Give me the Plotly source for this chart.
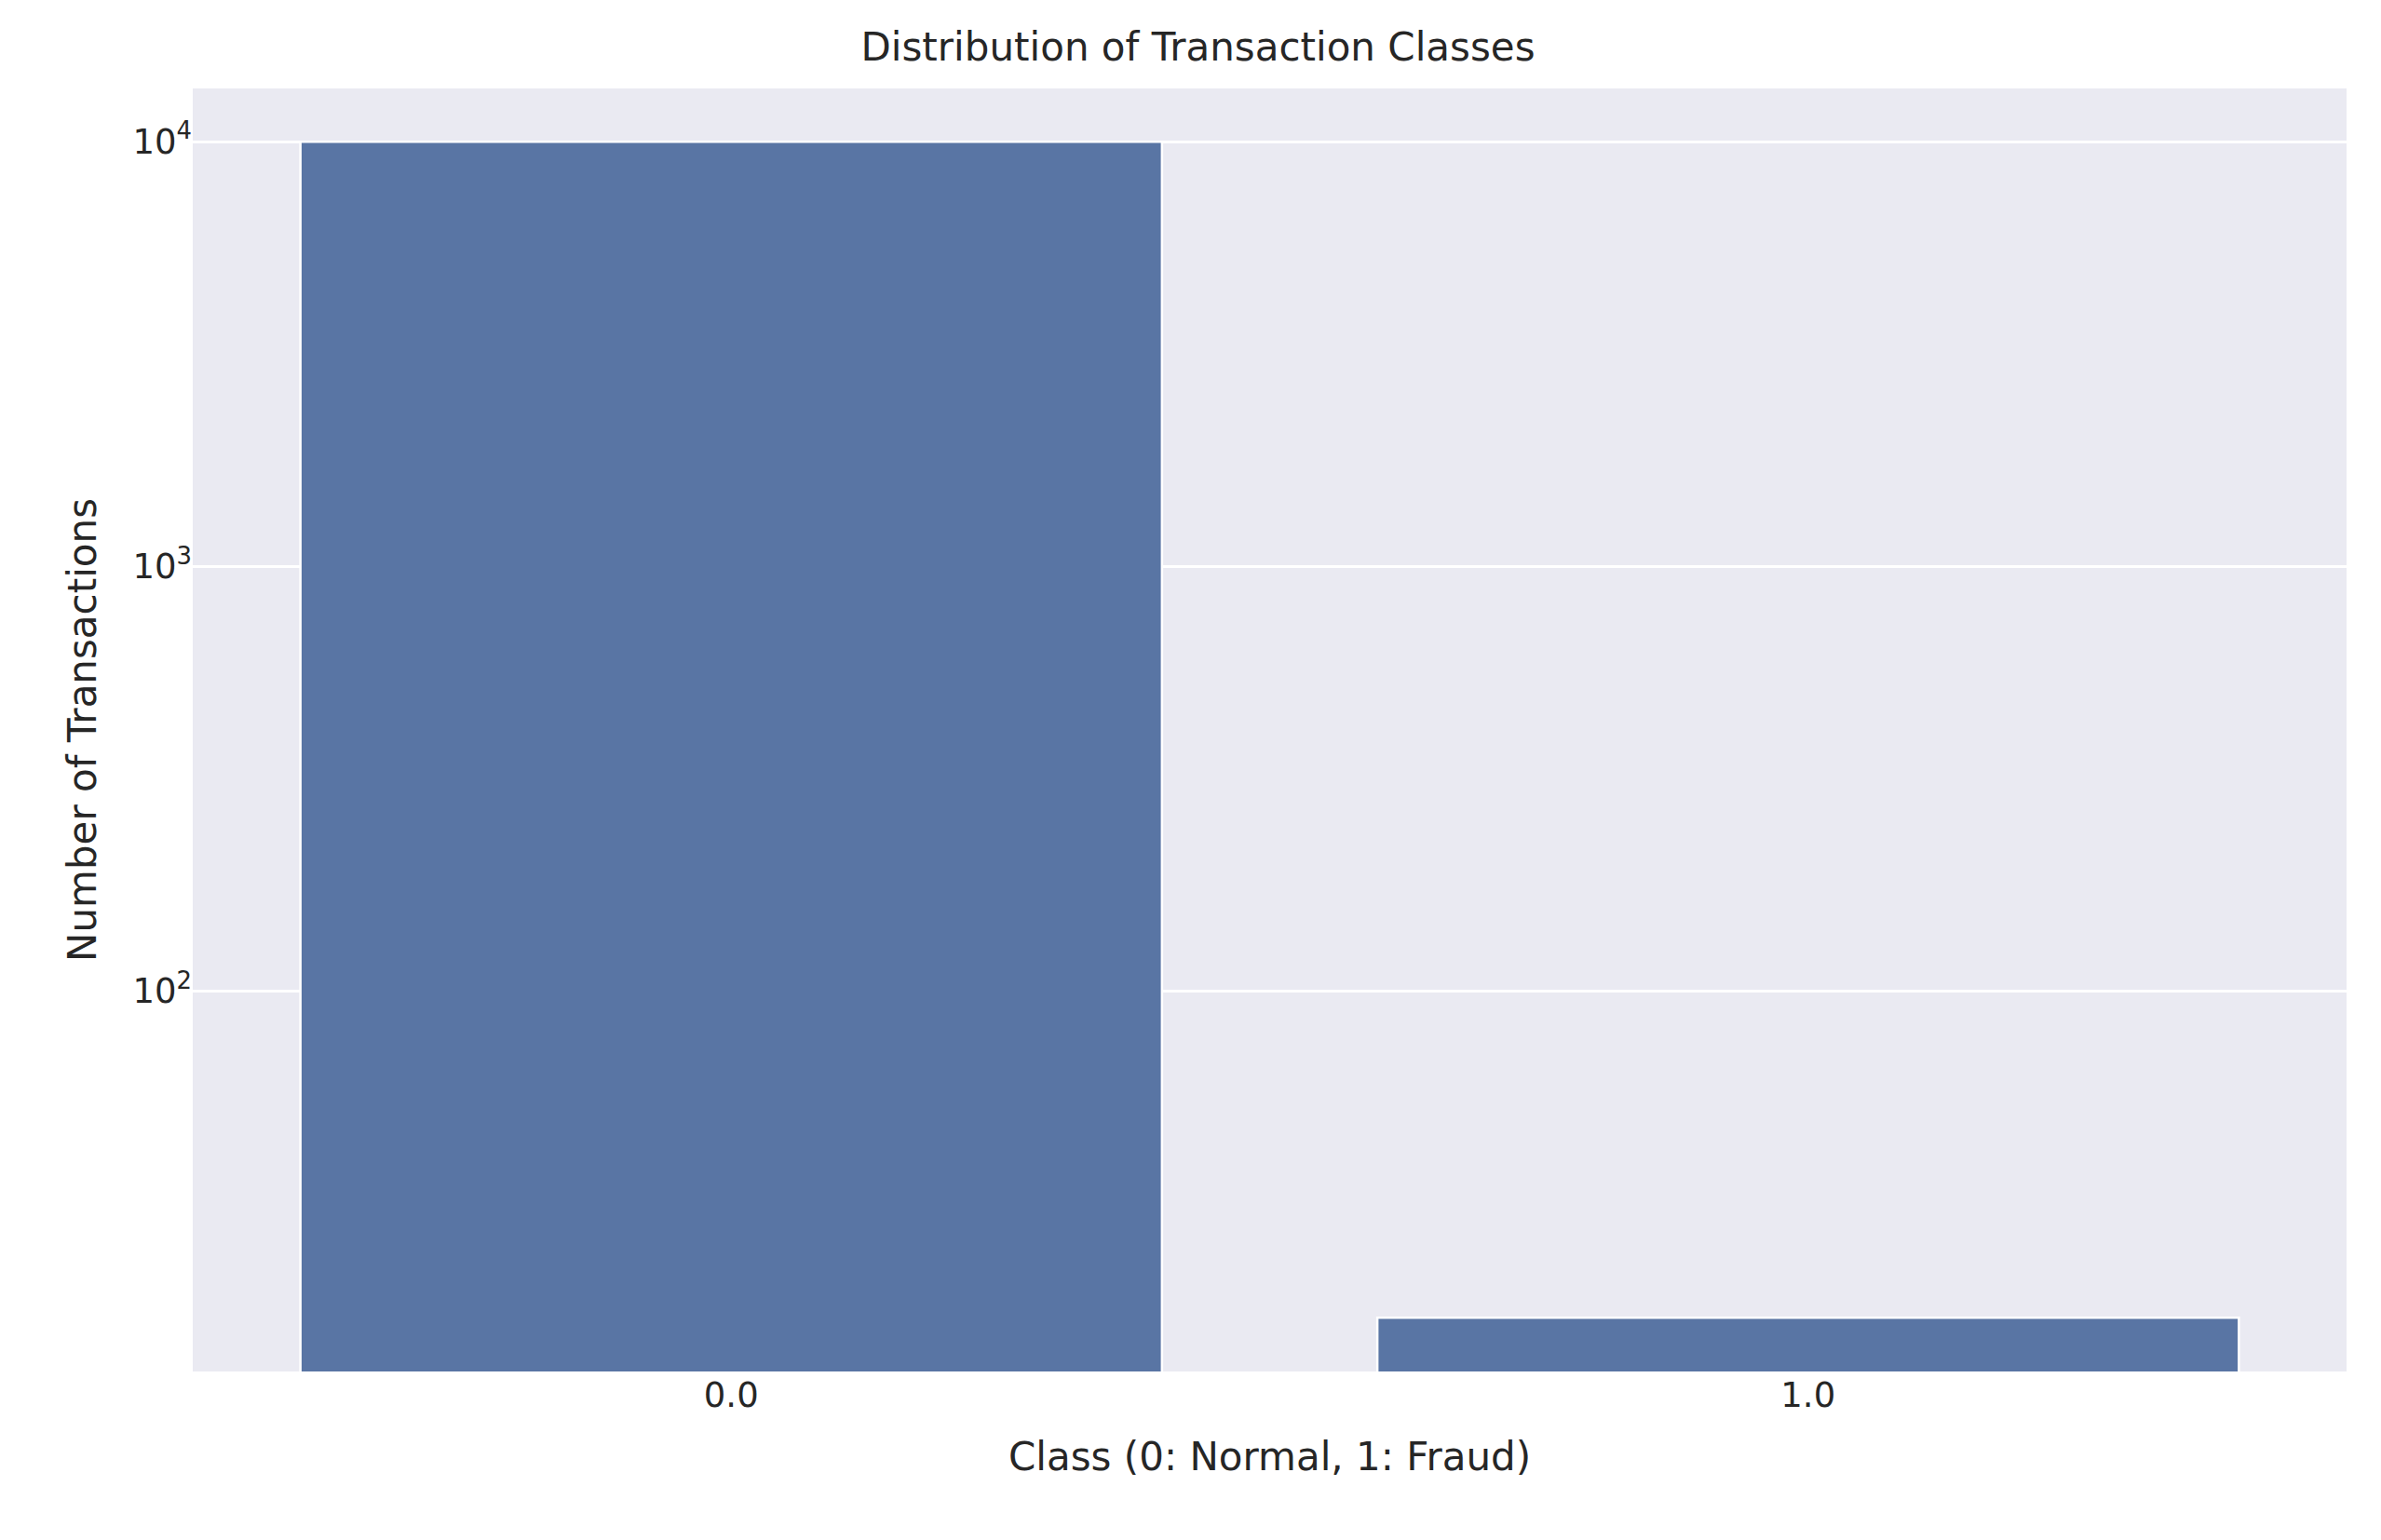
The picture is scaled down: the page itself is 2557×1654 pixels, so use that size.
import plotly.graph_objects as go

classes = ["0.0", "1.0"]
counts = [9983, 17]
tick_vals = [100, 1000, 10000]
tick_text = ["10<sup>2</sup>", "10<sup>3</sup>", "10<sup>4</sup>"]

fig = go.Figure(go.Bar(x=classes, y=counts, width=0.8, marker=dict(color="#5975a4", line=dict(color="white", width=2.5))))
fig.update_layout(
    width=2557, height=1654,
    paper_bgcolor="white", plot_bgcolor="#eaeaf2",
    margin=dict(l=199, r=45, t=87, b=189),
    font=dict(family="DejaVu Sans, Arial", size=37, color="#262626"),
    title=dict(text="Distribution of Transaction Classes", x=0.5, xanchor="center", y=1-42/1654, yanchor="middle", font=dict(size=42)),
    showlegend=False,
)
fig.update_xaxes(title=dict(text="Class (0: Normal, 1: Fraud)", font=dict(size=42), standoff=30), showgrid=False, range=[-0.5, 1.5], ticks="", zeroline=False)
fig.update_yaxes(type="log", range=[1.104, 4.125], tickvals=tick_vals, ticktext=tick_text,
                 title=dict(text="Number of Transactions", font=dict(size=42), standoff=25),
                 gridcolor="white", gridwidth=2.5, ticks="", zeroline=False)
fig.write_html("out.html")
